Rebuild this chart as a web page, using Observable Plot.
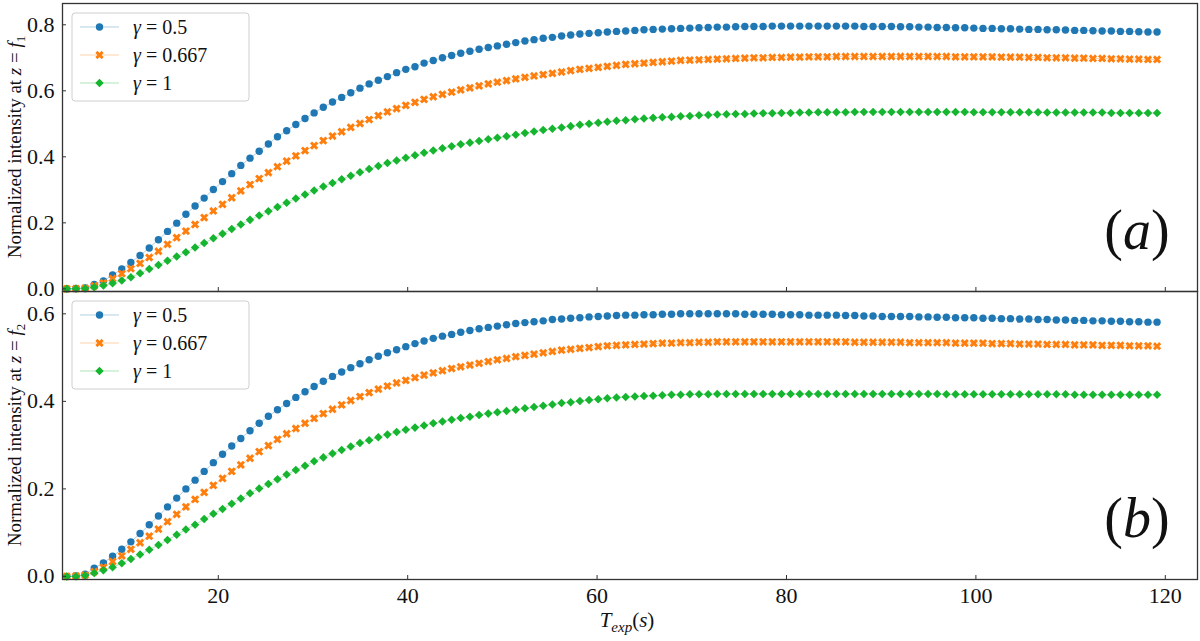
<!DOCTYPE html>
<html><head><meta charset="utf-8">
<script src="https://cdn.jsdelivr.net/npm/d3@7"></script>
<script src="https://cdn.jsdelivr.net/npm/@observablehq/plot@0.6"></script>
<style>
html,body{margin:0;padding:0;background:#fff;}
#chart{width:1200px;height:641px;position:relative;overflow:hidden;background:#fff;}
#chart svg{display:block;}
</style></head><body><div id="chart"></div>
<script>
// Exposure times (s)
const tExp = [4.00,4.97,5.94,6.90,7.87,8.84,9.81,10.77,11.74,12.71,13.68,14.64,15.61,16.58,17.55,18.51,19.48,20.45,21.42,22.38,
23.35,24.32,25.29,26.25,27.22,28.19,29.16,30.12,31.09,32.06,33.03,33.99,34.96,35.93,36.90,37.86,38.83,39.80,40.77,41.73,
42.70,43.67,44.64,45.60,46.57,47.54,48.51,49.47,50.44,51.41,52.38,53.34,54.31,55.28,56.25,57.21,58.18,59.15,60.12,61.08,
62.05,63.02,63.99,64.95,65.92,66.89,67.86,68.82,69.79,70.76,71.73,72.69,73.66,74.63,75.60,76.56,77.53,78.50,79.47,80.43,
81.40,82.37,83.34,84.30,85.27,86.24,87.21,88.17,89.14,90.11,91.08,92.04,93.01,93.98,94.95,95.91,96.88,97.85,98.82,99.78,
100.75,101.72,102.69,103.65,104.62,105.59,106.56,107.52,108.49,109.46,110.43,111.39,112.36,113.33,114.30,115.26,116.23,117.20,118.17,119.13];

const gammaLabels = ["0.5", "0.667", "1"];

// Panel (a): z = f1
const f1_g05 = [0,0.001,0.003,0.013,0.024,0.042,0.060,0.080,0.101,0.124,0.149,0.174,0.199,0.226,0.251,0.275,0.301,0.325,0.349,0.374,
0.396,0.417,0.439,0.461,0.479,0.498,0.516,0.533,0.550,0.566,0.580,0.594,0.608,0.621,0.632,0.643,0.655,0.665,0.673,0.684,
0.692,0.700,0.707,0.714,0.720,0.726,0.731,0.736,0.741,0.746,0.751,0.755,0.759,0.762,0.766,0.769,0.772,0.774,0.776,0.778,
0.780,0.781,0.783,0.785,0.786,0.787,0.788,0.789,0.790,0.791,0.792,0.793,0.793,0.794,0.795,0.795,0.795,0.796,0.796,0.796,
0.796,0.796,0.796,0.796,0.796,0.796,0.796,0.795,0.795,0.795,0.795,0.794,0.794,0.793,0.793,0.792,0.792,0.791,0.791,0.790,
0.789,0.789,0.788,0.788,0.787,0.786,0.786,0.785,0.785,0.784,0.783,0.783,0.782,0.781,0.781,0.780,0.780,0.779,0.778,0.778];
const f1_g0667 = [0,0.001,0.002,0.009,0.018,0.031,0.046,0.061,0.077,0.095,0.114,0.135,0.155,0.175,0.195,0.216,0.236,0.256,0.276,0.297,
0.316,0.334,0.352,0.370,0.387,0.403,0.419,0.434,0.449,0.463,0.476,0.489,0.501,0.513,0.525,0.536,0.546,0.556,0.565,0.574,
0.582,0.589,0.596,0.603,0.609,0.615,0.621,0.626,0.631,0.636,0.641,0.645,0.649,0.653,0.657,0.661,0.665,0.668,0.671,0.674,
0.677,0.680,0.682,0.684,0.686,0.688,0.690,0.692,0.693,0.694,0.695,0.696,0.697,0.698,0.699,0.700,0.700,0.701,0.701,0.702,
0.702,0.703,0.703,0.703,0.704,0.704,0.704,0.704,0.704,0.704,0.704,0.704,0.704,0.704,0.704,0.704,0.704,0.703,0.703,0.703,
0.703,0.703,0.702,0.702,0.702,0.701,0.701,0.700,0.700,0.700,0.699,0.699,0.698,0.698,0.697,0.697,0.696,0.696,0.695,0.695];
const f1_g1 = [0,0,0.001,0.005,0.010,0.017,0.025,0.035,0.047,0.060,0.072,0.085,0.098,0.111,0.125,0.139,0.153,0.167,0.181,0.195,
0.209,0.222,0.235,0.248,0.261,0.274,0.286,0.298,0.310,0.321,0.332,0.343,0.353,0.363,0.372,0.381,0.389,0.397,0.405,0.412,
0.419,0.426,0.432,0.438,0.443,0.448,0.453,0.458,0.462,0.467,0.472,0.477,0.481,0.485,0.489,0.493,0.497,0.500,0.503,0.506,
0.509,0.511,0.514,0.516,0.518,0.520,0.521,0.523,0.524,0.526,0.527,0.528,0.529,0.530,0.530,0.531,0.532,0.532,0.533,0.533,
0.534,0.534,0.535,0.535,0.535,0.535,0.536,0.536,0.536,0.536,0.536,0.536,0.536,0.536,0.536,0.536,0.536,0.536,0.536,0.535,
0.535,0.535,0.535,0.535,0.535,0.535,0.535,0.534,0.534,0.534,0.534,0.534,0.534,0.534,0.533,0.533,0.533,0.533,0.533,0.533];

// Panel (b): z = f2
const f2_g05 = [0,0.001,0.005,0.019,0.031,0.046,0.062,0.079,0.098,0.118,0.138,0.159,0.179,0.200,0.220,0.240,0.260,0.279,0.298,0.315,
0.333,0.350,0.366,0.381,0.395,0.409,0.422,0.434,0.446,0.457,0.467,0.477,0.486,0.495,0.503,0.511,0.518,0.525,0.532,0.538,
0.544,0.549,0.553,0.558,0.562,0.566,0.569,0.572,0.575,0.578,0.580,0.582,0.584,0.587,0.588,0.590,0.591,0.593,0.594,0.595,
0.596,0.597,0.597,0.598,0.598,0.599,0.599,0.600,0.600,0.600,0.600,0.600,0.600,0.600,0.599,0.599,0.599,0.599,0.598,0.598,
0.598,0.597,0.597,0.597,0.597,0.596,0.596,0.595,0.595,0.594,0.594,0.594,0.594,0.593,0.593,0.592,0.592,0.591,0.591,0.591,
0.590,0.590,0.589,0.589,0.588,0.588,0.587,0.587,0.586,0.586,0.585,0.585,0.584,0.584,0.583,0.583,0.582,0.582,0.581,0.581];
const f2_g0667 = [0,0.001,0.003,0.011,0.021,0.034,0.047,0.062,0.077,0.092,0.108,0.125,0.142,0.159,0.176,0.192,0.208,0.224,0.240,0.255,
0.270,0.285,0.299,0.313,0.326,0.338,0.350,0.361,0.372,0.382,0.392,0.402,0.411,0.420,0.428,0.435,0.442,0.448,0.454,0.460,
0.465,0.470,0.475,0.479,0.483,0.487,0.491,0.495,0.498,0.502,0.505,0.508,0.511,0.514,0.517,0.519,0.521,0.523,0.525,0.527,
0.528,0.529,0.530,0.531,0.532,0.533,0.533,0.534,0.534,0.535,0.535,0.536,0.536,0.536,0.536,0.536,0.536,0.536,0.536,0.536,
0.536,0.536,0.536,0.536,0.536,0.536,0.535,0.535,0.535,0.535,0.535,0.535,0.534,0.534,0.534,0.534,0.534,0.533,0.533,0.533,
0.533,0.532,0.532,0.532,0.531,0.531,0.531,0.530,0.530,0.530,0.529,0.529,0.529,0.528,0.528,0.528,0.527,0.527,0.527,0.526];
const f2_g1 = [0,0,0.002,0.008,0.014,0.021,0.030,0.040,0.050,0.061,0.072,0.083,0.095,0.107,0.118,0.131,0.143,0.154,0.166,0.178,
0.190,0.201,0.211,0.222,0.233,0.243,0.253,0.263,0.272,0.281,0.289,0.297,0.305,0.311,0.318,0.324,0.330,0.335,0.340,0.345,
0.350,0.354,0.358,0.362,0.365,0.369,0.372,0.375,0.378,0.381,0.384,0.387,0.390,0.393,0.396,0.398,0.401,0.403,0.405,0.407,
0.409,0.410,0.411,0.412,0.413,0.414,0.415,0.415,0.416,0.416,0.416,0.417,0.417,0.417,0.417,0.417,0.417,0.417,0.417,0.417,
0.417,0.417,0.417,0.417,0.417,0.417,0.417,0.417,0.417,0.417,0.417,0.417,0.417,0.417,0.417,0.417,0.416,0.416,0.416,0.416,
0.416,0.416,0.416,0.416,0.416,0.416,0.416,0.416,0.416,0.416,0.415,0.415,0.415,0.415,0.415,0.415,0.415,0.415,0.415,0.415];

const xTicks = [20, 40, 60, 80, 100, 120];
const yTicksTop = [0, 0.2, 0.4, 0.6, 0.8];
const yTicksBottom = [0, 0.2, 0.4, 0.6];

const colors = ["#1f77b4", "#ff7f0e", "#15b52f"];
const symbols = ["circle", "cross", "square"];
const rotations = [0, 45, 45];
const radii = [3.7, 3.7, 3.4];

const W = 1200, mL = 62, mR = 3;
const FONT = "'Liberation Serif', 'Times New Roman', Tinos, 'DejaVu Serif', 'Noto Serif', 'Nimbus Roman', FreeSerif, serif";
const AXIS = "#333";

function makePanel({series, yDomain, yTicks, height, marginTop, marginBottom, showX, sub, tag, bg}) {
  const data = [];
  series.forEach((vals, g) => vals.forEach((v, i) => data.push({t: tExp[i], v, g})));
  const plotH = height - marginTop - marginBottom;
  const marks = [];
  series.forEach((vals, g) => {
    const d = data.filter(r => r.g === g);
    marks.push(Plot.line(d, {x: "t", y: "v", stroke: colors[g], strokeOpacity: 0.35, strokeWidth: 1}));
  });
  series.forEach((vals, g) => {
    const d = data.filter(r => r.g === g);
    marks.push(Plot.dot(d, {x: "t", y: "v", symbol: symbols[g], fill: colors[g], stroke: "none", r: radii[g], rotate: rotations[g]}));
  });
  marks.push(Plot.tickY(yTicks, {y: d => d, stroke: AXIS, strokeWidth: 1, insetRight: W - mL - mR - 4}));
  marks.push(Plot.tickX(xTicks, {x: d => d, stroke: AXIS, strokeWidth: 1, insetTop: plotH - 4}));
  marks.push(Plot.axisY(yTicks, {tickSize: 0, tickPadding: 8, tickFormat: d3.format(".1f"), label: null, fontSize: 22, fill: "#111"}));
  if (showX) marks.push(Plot.axisX(xTicks, {tickSize: 0, tickPadding: 8, label: null, fontSize: 22, fill: "#111"}));
  marks.push(Plot.frame({stroke: AXIS, strokeWidth: 1.3}));

  const svg = Plot.plot({
    width: W, height, marginLeft: mL, marginRight: mR, marginTop, marginBottom,
    style: {fontFamily: FONT, fontSize: "22px", background: bg, overflow: "visible"},
    x: {domain: [3.55, 123.4], axis: null},
    y: {domain: yDomain, axis: null},
    marks
  });

  const s = d3.select(svg);
  const top = marginTop, bottom = height - marginBottom;

  // y label
  const yl = s.append("text")
    .attr("transform", `translate(21, ${(top + bottom) / 2}) rotate(-90)`)
    .attr("text-anchor", "middle").attr("font-size", 19).attr("fill", "#111")
    .attr("font-family", FONT);
  yl.append("tspan").text("Normalized intensity at ");
  yl.append("tspan").attr("font-style", "italic").text("z");
  yl.append("tspan").text(" = ");
  yl.append("tspan").attr("font-style", "italic").text("f");
  yl.append("tspan").attr("font-size", 13).attr("dy", 4).text(sub);

  // legend
  const lg = s.append("g").attr("transform", `translate(72, ${top + 10})`);
  lg.append("rect").attr("width", 177).attr("height", 88).attr("rx", 3)
    .attr("fill", "white").attr("fill-opacity", 0.85).attr("stroke", "#cfcfcf").attr("stroke-width", 1);
  gammaLabels.forEach((lab, g) => {
    const y = 14 + 28 * g;
    lg.append("line").attr("x1", 8).attr("x2", 47).attr("y1", y).attr("y2", y)
      .attr("stroke", colors[g]).attr("stroke-opacity", 0.35).attr("stroke-width", 1.2);
    const sym = {circle: d3.symbolCircle, cross: d3.symbolCross, square: d3.symbolSquare}[symbols[g]];
    lg.append("path").attr("d", d3.symbol(sym, Math.PI * radii[g] * radii[g])())
      .attr("transform", `translate(27.5, ${y}) rotate(${rotations[g]})`).attr("fill", colors[g]);
    const tx = lg.append("text").attr("x", 61).attr("y", y + 7).attr("font-size", 20)
      .attr("text-anchor", "start").attr("fill", "#111").attr("font-family", FONT);
    tx.append("tspan").attr("font-style", "italic").text("γ");
    tx.append("tspan").text(" = " + lab);
  });

  // panel tag
  const tg = s.append("text").attr("x", 1137).attr("y", top + 246).attr("text-anchor", "middle")
    .attr("font-size", 56).attr("fill", "#111").attr("font-family", FONT);
  tg.append("tspan").text("(");
  tg.append("tspan").attr("font-style", "italic").text(tag);
  tg.append("tspan").text(")");

  if (showX) {
    const xl = s.append("text").attr("x", 627).attr("y", bottom + 48).attr("text-anchor", "middle")
      .attr("font-size", 21).attr("fill", "#111").attr("font-family", FONT);
    xl.append("tspan").attr("font-style", "italic").text("T");
    xl.append("tspan").attr("font-style", "italic").attr("font-size", 15).attr("dy", 5).text("exp");
    xl.append("tspan").attr("dy", -5).text("(");
    xl.append("tspan").attr("font-style", "italic").text("s");
    xl.append("tspan").text(")");
  }
  return svg;
}

const chart = document.getElementById("chart");
chart.append(makePanel({
  series: [f1_g05, f1_g0667, f1_g1], yDomain: [-0.008, 0.8645], yTicks: yTicksTop,
  height: 291, marginTop: 3, marginBottom: 0, showX: false, sub: "1", tag: "a", bg: "white"
}));
chart.append(makePanel({
  series: [f2_g05, f2_g0667, f2_g1], yDomain: [-0.007, 0.651], yTicks: yTicksBottom,
  height: 350, marginTop: 0, marginBottom: 62, showX: true, sub: "2", tag: "b", bg: "transparent"
}));
</script></body></html>
